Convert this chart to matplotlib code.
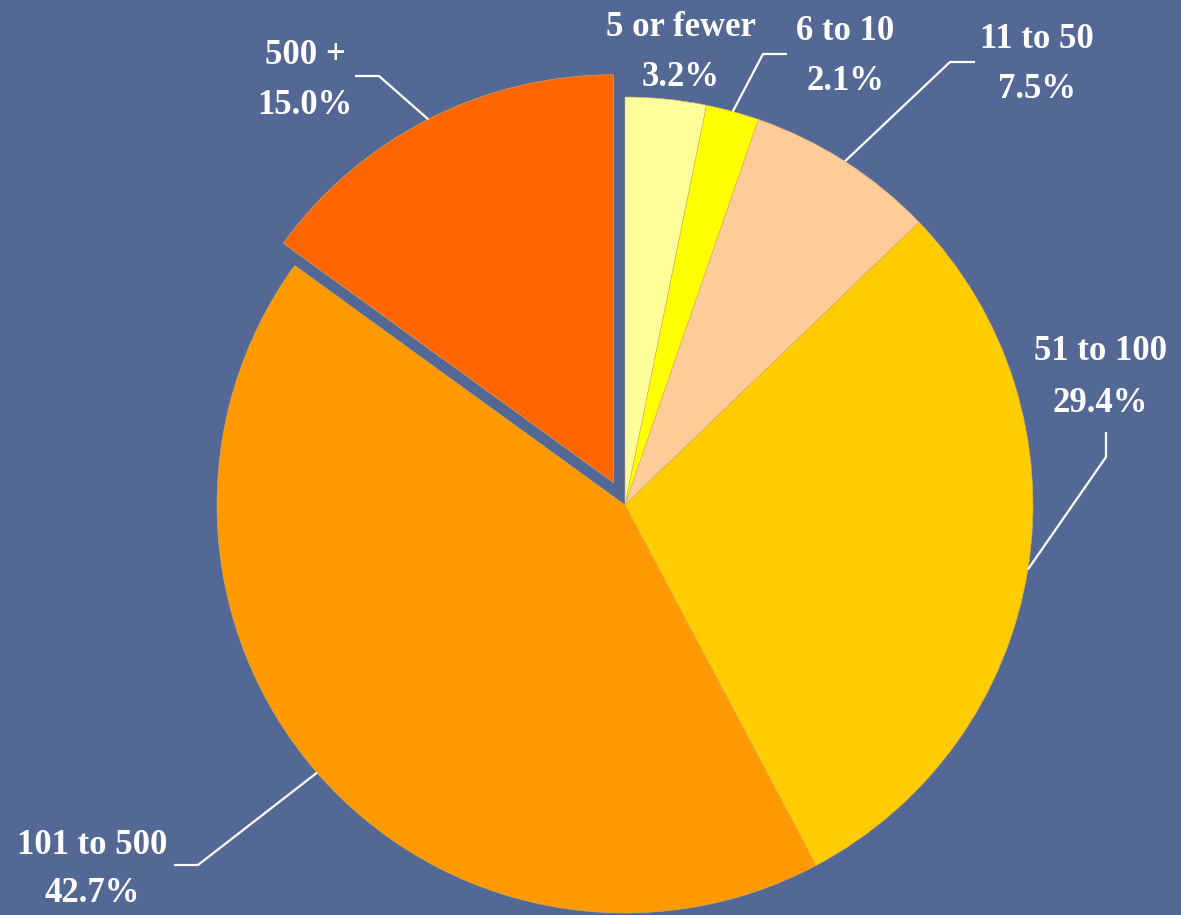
import numpy as np
import matplotlib
matplotlib.use("Agg")
import matplotlib.pyplot as plt

categories = ["5 or fewer", "6 to 10", "11 to 50", "51 to 100", "101 to 500", "500 +"]
values = [3.2, 2.1, 7.5, 29.4, 42.7, 15.0]
pct_labels = ["3.2%", "2.1%", "7.5%", "29.4%", "42.7%", "15.0%"]
colors = ["#FFFF99", "#FFFF00", "#FFCC99", "#FFCC00", "#FF9900", "#FF6600"]

BG = "#546895"
W, H = 1181, 915
fig = plt.figure(figsize=(W / 100, H / 100), dpi=100, facecolor=BG)
ax = fig.add_axes([0, 0, 1, 1])
ax.set_facecolor(BG)
ax.set_xlim(0, W)
ax.set_ylim(0, H)
ax.set_aspect("equal")
ax.axis("off")

cx, cy, R = 625, H - 505, 408
explode = [0, 0, 0, 0, 0, 25]  # pixel offset of the pulled-out slice
wedges, _ = ax.pie(values, colors=colors, startangle=90, counterclock=False,
                   explode=explode, center=(cx, cy), radius=R,
                   wedgeprops=dict(linewidth=0.4, edgecolor="#d9b060"))
ax.set_xlim(0, W)
ax.set_ylim(0, H)

font = dict(family="Liberation Serif", fontweight="bold", fontsize=25, color="white")

# label layout: (label center x, name y, pct y) in pixels from top; leader (elbow, end) or None
layout = [
    ((681, 27, 78), None),
    ((845, 32, 82), ((763, 54), (787, 54))),
    ((1037, 40, 90), ((950, 62), (975, 62))),
    ((1100, 352, 403), ((1106, 457), (1106, 432))),
    ((92, 845, 893), ((198, 865), (174, 865))),
    ((305, 55, 105), ((379, 76), (355, 76))),
]

for w, name, pct, (lab, lead) in zip(wedges, categories, pct_labels, layout):
    lx, ny, py = lab
    ax.text(lx, H - ny, name, ha="center", va="center", **font)
    ax.text(lx, H - py, pct, ha="center", va="center", **font)
    if lead is not None:
        mid = np.deg2rad((w.theta1 + w.theta2) / 2)
        ccx, ccy = w.center
        sx = ccx + w.r * np.cos(mid)
        sy = ccy + w.r * np.sin(mid)
        (ex, ey), (fx, fy) = lead
        ax.plot([sx, ex, fx], [sy, H - ey, H - fy], color="white", lw=1.6,
                solid_capstyle="butt", zorder=5)

fig.savefig("out.png", dpi=100, facecolor=BG)
